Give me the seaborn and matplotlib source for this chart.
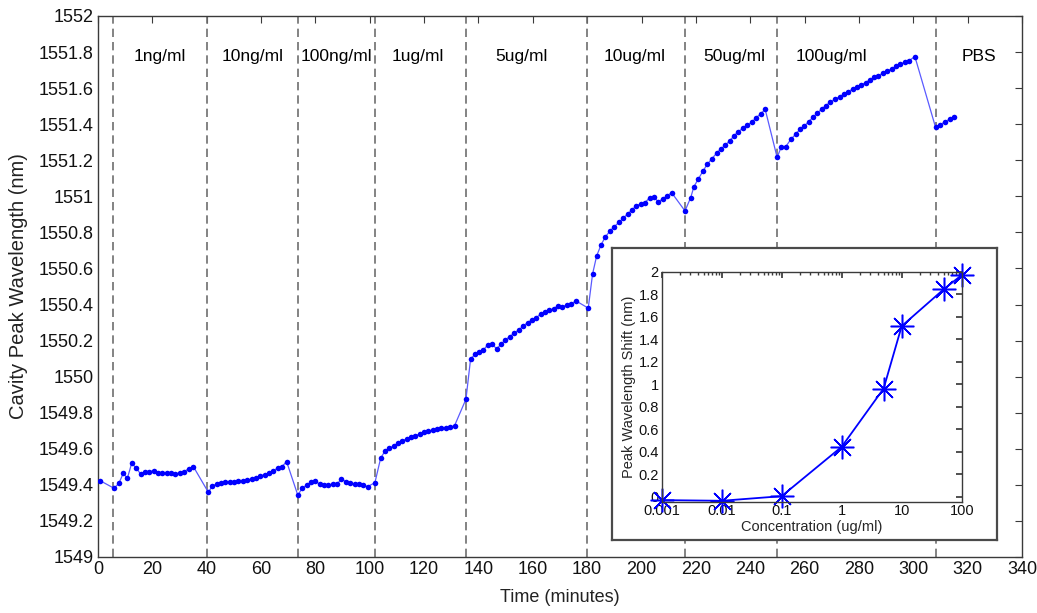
import numpy as np
import pandas as pd
import matplotlib
matplotlib.use("Agg")
import matplotlib.pyplot as plt
import seaborn as sns

# main trace: time (minutes) vs cavity peak wavelength (nm)
time_min = [
    0.8, 5.9, 7.7, 9.3, 10.8, 12.4, 14.1, 15.7, 17.3, 18.9, 20.5, 22.1, 23.7, 25.3, 26.9, 28.4, 30.0, 31.6, 33.5, 35.1,
    40.6, 42.1, 43.7, 45.3, 46.9, 48.5, 50.1, 51.7, 53.3, 54.9, 56.5, 58.1, 59.7, 61.3, 62.9, 64.5, 66.1, 67.7, 69.4,
    73.5, 75.2, 76.8, 78.3, 79.8, 81.6, 83.2, 84.7, 86.3, 88.0, 89.6, 91.2, 92.8, 94.4, 96.0, 97.6, 99.2,
    101.9, 104.0, 105.6, 107.2, 108.8, 110.4, 112.0, 113.6, 115.2, 116.8, 118.4, 120.0, 121.6, 123.2, 124.8, 126.4,
    128.0, 129.6, 131.2, 135.4,
    137.1, 138.7, 140.3, 141.8, 143.4, 145.0, 146.7, 148.3, 149.9, 151.5, 153.1, 154.8, 156.5, 158.1, 159.7, 161.3,
    162.9, 164.5, 166.0, 167.7, 169.2, 170.8, 172.4, 174.1, 175.9,
    180.4, 182.0, 183.5, 185.1, 186.6, 188.4, 190.0, 191.7, 193.3, 194.9, 196.5, 198.1, 199.7, 201.3, 203.0, 204.6,
    206.1, 207.8, 209.3, 211.1,
    216.0, 218.1, 219.3, 220.9, 222.7, 224.2, 225.8, 227.6, 229.2, 230.9, 232.5, 234.0, 235.6, 237.4, 239.0, 240.6,
    242.2, 243.8, 245.5,
    249.9, 251.5, 253.1, 255.0, 256.7, 258.3, 259.9, 261.5, 263.1, 264.6, 266.3, 267.8, 269.4, 271.3, 272.9, 274.5,
    276.0, 277.7, 279.2, 280.8, 282.5, 284.0, 285.6, 287.2, 288.9, 290.5, 292.1, 293.7, 295.3, 296.9, 298.5, 300.6,
    308.2, 309.8, 311.6, 313.4, 314.9,
]
wavelength_nm = [
    1549.423, 1549.381, 1549.409, 1549.464, 1549.436, 1549.520, 1549.492, 1549.460, 1549.473, 1549.473, 1549.479,
    1549.464, 1549.464, 1549.464, 1549.464, 1549.459, 1549.468, 1549.473, 1549.490, 1549.501,
    1549.359, 1549.394, 1549.405, 1549.412, 1549.416, 1549.416, 1549.416, 1549.420, 1549.423, 1549.427, 1549.431,
    1549.436, 1549.449, 1549.457, 1549.464, 1549.479, 1549.492, 1549.501, 1549.529,
    1549.344, 1549.381, 1549.399, 1549.414, 1549.423, 1549.403, 1549.399, 1549.399, 1549.403, 1549.405, 1549.433,
    1549.418, 1549.409, 1549.403, 1549.405, 1549.397, 1549.390,
    1549.412, 1549.547, 1549.588, 1549.603, 1549.616, 1549.631, 1549.643, 1549.656, 1549.664, 1549.673, 1549.682,
    1549.692, 1549.697, 1549.703, 1549.708, 1549.714, 1549.717, 1549.719, 1549.728, 1549.875,
    1550.097, 1550.124, 1550.139, 1550.148, 1550.176, 1550.181, 1550.154, 1550.180, 1550.204, 1550.222, 1550.241,
    1550.259, 1550.281, 1550.300, 1550.314, 1550.327, 1550.348, 1550.357, 1550.370, 1550.375, 1550.394, 1550.385,
    1550.398, 1550.403, 1550.420,
    1550.380, 1550.570, 1550.670, 1550.730, 1550.773, 1550.808, 1550.832, 1550.856, 1550.880, 1550.902, 1550.925,
    1550.948, 1550.958, 1550.965, 1550.993, 1550.995, 1550.971, 1550.984, 1551.002, 1551.020,
    1550.919, 1550.993, 1551.054, 1551.096, 1551.142, 1551.178, 1551.207, 1551.239, 1551.263, 1551.285, 1551.309,
    1551.335, 1551.359, 1551.378, 1551.396, 1551.411, 1551.437, 1551.456, 1551.483,
    1551.216, 1551.276, 1551.276, 1551.317, 1551.344, 1551.372, 1551.390, 1551.414, 1551.439, 1551.461, 1551.483,
    1551.503, 1551.522, 1551.539, 1551.553, 1551.566, 1551.581, 1551.594, 1551.609, 1551.618, 1551.631, 1551.646,
    1551.659, 1551.670, 1551.683, 1551.696, 1551.707, 1551.720, 1551.733, 1551.744, 1551.753, 1551.775,
    1551.383, 1551.394, 1551.414, 1551.427, 1551.442,
]

# injection boundaries and concentration labels
boundaries = [5.5, 40, 73.5, 102, 135.5, 180, 216, 250, 308.5]
conc_labels = ["1ng/ml", "10ng/ml", "100ng/ml", "1ug/ml", "5ug/ml", "10ug/ml", "50ug/ml", "100ug/ml", "PBS"]
label_x = [22.8, 57, 87.7, 117.7, 156, 197.6, 234, 270, 324]

# inset: shift vs concentration
conc_ugml = [0.001, 0.01, 0.1, 1, 5, 10, 50, 100]
shift_nm = [-0.031, -0.037, 0.004, 0.443, 0.961, 1.516, 1.843, 1.970]

sns.set_theme(style="white")
plt.rcParams["font.family"] = ["Liberation Sans", "DejaVu Sans"]
edge = "#3a3a3a"

fig = plt.figure(figsize=(10.37, 6.13), dpi=100)
ax = fig.add_axes([0.0945, 0.0914, 0.891, 0.8825])

df = pd.DataFrame({"t": time_min, "wl": wavelength_nm})
sns.lineplot(data=df, x="t", y="wl", ax=ax, color="#5a5aff", linewidth=0.9, sort=False, estimator=None)
sns.scatterplot(data=df, x="t", y="wl", ax=ax, color="#0000ff", s=16, linewidth=0, zorder=3)

for b in boundaries:
    ax.axvline(b, color="#6e6e6e", linestyle=(0, (5, 3)), linewidth=1.2, zorder=1)
for lx, lab in zip(label_x, conc_labels):
    ax.text(lx, 1551.775, lab, ha="center", va="center", fontsize=12.5, color="black")

ax.set_xlim(0, 340)
ax.set_ylim(1549, 1552)
ax.set_xticks(np.arange(0, 341, 20))
yt = np.round(np.arange(1549, 1552.01, 0.2), 1)
ax.set_yticks(yt)
ax.set_yticklabels(["%g" % v for v in yt])
ax.tick_params(direction="in", top=True, right=True, length=5, width=0.8, colors=edge, labelcolor="#111111",
               labelsize=13, pad=3)
for s in ax.spines.values():
    s.set_color(edge)
    s.set_linewidth(1.0)
ax.set_xlabel("Time (minutes)", fontsize=13, labelpad=8, color="#222222")
ax.set_ylabel("Cavity Peak Wavelength (nm)", fontsize=14.5, labelpad=8, color="#222222")

# white box behind the inset
bg = fig.add_axes([0.590, 0.1191, 0.3714, 0.4763])
bg.set_xticks([])
bg.set_yticks([])
bg.set_facecolor("white")
for s in bg.spines.values():
    s.set_color("#4a4a4a")
    s.set_linewidth(1.6)

ax_in = fig.add_axes([0.638, 0.1816, 0.2894, 0.3752])
sns.lineplot(x=conc_ugml, y=shift_nm, ax=ax_in, color="#0000ff", linewidth=1.3, sort=False, estimator=None,
             marker=(8, 2, 0), markersize=17, markeredgecolor="#0000ff", markeredgewidth=1.1, clip_on=False)
ax_in.set_xscale("log")
ax_in.set_xlim(0.001, 100)
ax_in.set_ylim(-0.045, 2.0)
xt = [0.001, 0.01, 0.1, 1, 10, 100]
ax_in.set_xticks(xt)
ax_in.set_xticklabels(["%g" % v for v in xt])
yti = np.round(np.arange(0, 2.01, 0.2), 1)
ax_in.set_yticks(yti)
ax_in.set_yticklabels(["%g" % v for v in yti])
ax_in.tick_params(which="both", direction="in", top=True, right=True, colors=edge, labelcolor="#111111",
                  labelsize=10.5, pad=2)
ax_in.tick_params(which="major", length=4)
ax_in.tick_params(which="minor", length=2)
for s in ax_in.spines.values():
    s.set_color(edge)
    s.set_linewidth(1.0)
ax_in.set_xlabel("Concentration (ug/ml)", fontsize=10.5, labelpad=1)
ax_in.set_ylabel("Peak Wavelength Shift (nm)", fontsize=10.5, labelpad=2)

fig.savefig("out.png", dpi=100)
